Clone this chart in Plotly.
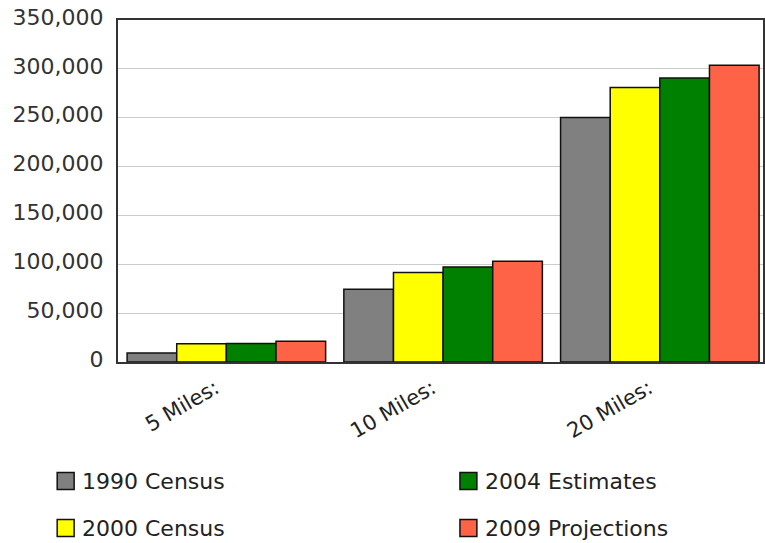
import plotly.graph_objects as go

# Population within each radius
categories = ["5 Miles:", "10 Miles:", "20 Miles:"]
series_names = ["1990 Census", "2000 Census", "2004 Estimates", "2009 Projections"]
census_1990 = [9200, 74500, 250300]
census_2000 = [18800, 91600, 281000]
estimates_2004 = [18900, 97300, 290600]
projections_2009 = [21200, 103100, 303600]
series_values = [census_1990, census_2000, estimates_2004, projections_2009]
series_colors = ["#808080", "#FFFF00", "#008000", "#FF6347"]
y_tick_values = [0, 50000, 100000, 150000, 200000, 250000, 300000, 350000]
y_tick_labels = ["0", "50,000", "100,000", "150,000", "200,000", "250,000", "300,000", "350,000"]

W, H = 765, 543
M_L, M_R, M_T, M_B = 118, 0, 20, 181
PLOT_W = W - M_L - M_R
PLOT_H = H - M_T - M_B

FONT = "DejaVu Sans"

fig = go.Figure()
for name, vals, color in zip(series_names, series_values, series_colors):
    fig.add_trace(go.Bar(
        x=categories, y=vals, name=name,
        marker=dict(color=color, line=dict(color="#111111", width=1.5)),
        showlegend=False,
    ))


def px_to_paper_x(px):
    return (px - M_L) / PLOT_W


def px_to_paper_y(py):
    return (H - M_B - py) / PLOT_H


# Two-column legend below the chart: (column x, row y) for each series
legend_slots = {
    "1990 Census": (57, 481),
    "2004 Estimates": (461, 481),
    "2000 Census": (57, 528),
    "2009 Projections": (461, 528),
}
shapes = []
annotations = []
for name, color in zip(series_names, series_colors):
    sx, sy = legend_slots[name]
    shapes.append(dict(
        type="rect", xref="paper", yref="paper",
        x0=px_to_paper_x(sx), x1=px_to_paper_x(sx + 17),
        y0=px_to_paper_y(sy - 8.5), y1=px_to_paper_y(sy + 8.5),
        fillcolor=color, line=dict(color="#111111", width=1.5),
    ))
    annotations.append(dict(
        xref="paper", yref="paper",
        x=px_to_paper_x(sx + 23), y=px_to_paper_y(sy),
        xanchor="left", yanchor="middle", showarrow=False,
        text=name, font=dict(family=FONT, size=22, color="#222222"),
    ))

fig.update_layout(
    width=W, height=H,
    margin=dict(l=M_L, r=M_R, t=M_T, b=M_B, pad=0),
    paper_bgcolor="white", plot_bgcolor="white",
    barmode="group", bargap=0.084, bargroupgap=0,
    shapes=shapes, annotations=annotations,
    xaxis=dict(
        range=[-0.5, 2.476],
        showgrid=False, showline=True, mirror=True,
        linecolor="#333333", linewidth=2,
        tickangle=-30, ticklabelstandoff=4, ticklabelshift=-11,
        tickfont=dict(family=FONT, size=21, color="#222222"),
    ),
    yaxis=dict(
        range=[0, 350000],
        tickvals=y_tick_values, ticktext=y_tick_labels,
        showgrid=True, gridcolor="#CCCCCC", gridwidth=1,
        showline=True, mirror=True, linecolor="#333333", linewidth=2,
        zeroline=False, ticklabelstandoff=8, ticklabelshift=-3,
        tickfont=dict(family=FONT, size=22, color="#333333"),
    ),
)

fig.write_html("out.html")
